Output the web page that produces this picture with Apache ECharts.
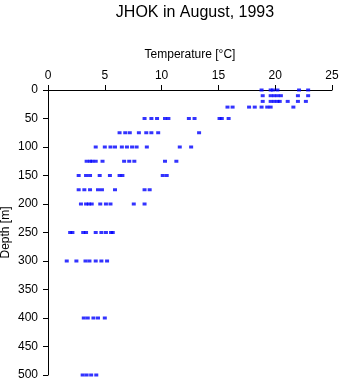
<!DOCTYPE html>
<html>
<head>
<meta charset="utf-8">
<script src="https://cdn.jsdelivr.net/npm/echarts@6/dist/echarts.min.js"></script>
<style>
  html, body { margin: 0; padding: 0; background: #fff; }
  #chart { width: 341px; height: 384px; }
</style>
</head>
<body>
<div id="chart"></div>
<script>
// Sampling depths (m) of the CTD casts
const depths = [0, 10, 20, 30, 50, 75, 100, 125, 150, 175, 200, 250, 300, 400, 500];

// Water temperature (°C) measured at each depth, one array per depth
const temp0   = [18.8, 19.6, 19.8, 20.2, 22.1, 22.9];
const temp10  = [18.9, 19.6, 19.9, 20.2, 20.5, 22.0, 22.9];
const temp20  = [18.9, 19.6, 19.9, 20.2, 20.4, 21.1, 22.0, 22.7];
const temp30  = [15.8, 16.25, 17.7, 18.2, 18.8, 19.3, 19.6, 21.6];
const temp50  = [8.5, 9.1, 9.6, 10.3, 10.6, 12.4, 12.9, 15.1, 15.3, 15.9];
const temp75  = [6.3, 6.8, 7.2, 8.0, 8.65, 9.1, 9.7, 13.3];
const temp100 = [4.2, 5.0, 5.5, 5.9, 6.5, 6.95, 7.4, 7.8, 8.7, 11.6, 12.6];
const temp125 = [3.4, 3.7, 3.9, 4.2, 4.8, 6.7, 7.15, 7.6, 10.3, 11.3];
const temp150 = [2.7, 3.35, 3.7, 4.55, 5.45, 6.3, 6.55, 10.1, 10.45];
const temp175 = [2.7, 3.2, 3.7, 4.4, 4.75, 5.9, 8.5, 8.95];
const temp200 = [2.9, 3.35, 3.6, 3.85, 4.6, 5.1, 5.5, 7.55, 8.5];
const temp250 = [1.95, 2.15, 3.1, 3.35, 4.2, 4.7, 5.1, 5.55, 5.7];
const temp300 = [1.65, 2.5, 3.3, 3.65, 4.2, 4.7, 5.2];
const temp400 = [3.15, 3.5, 4.0, 4.4, 5.0];
const temp500 = [3.05, 3.4, 3.8, 4.25];

const tempsByDepth = [temp0, temp10, temp20, temp30, temp50, temp75, temp100,
  temp125, temp150, temp175, temp200, temp250, temp300, temp400, temp500];

const points = [];
depths.forEach((d, i) => {
  tempsByDepth[i].forEach(t => points.push([t, d]));
});

const font = '"Liberation Sans", Arial, sans-serif';
const chart = echarts.init(document.getElementById('chart'), null, { renderer: 'canvas' });

chart.setOption({
  animation: false,
  backgroundColor: '#ffffff',
  title: {
    text: 'JHOK in August, 1993',
    left: 190,
    textAlign: 'center',
    top: 0,
    textStyle: { fontFamily: font, fontSize: 16, fontWeight: 'normal', color: '#000' }
  },
  grid: { left: 48, right: 9, top: 90, bottom: 9, containLabel: false, outerBoundsMode: 'none' },
  xAxis: {
    type: 'value',
    position: 'top',
    min: 0, max: 25, interval: 5,
    name: 'Temperature [°C]',
    nameLocation: 'middle',
    nameGap: 29,
    nameMoveOverlap: false,
    nameTextStyle: { fontFamily: font, fontSize: 12, color: '#000' },
    axisLine: { show: true, onZero: false, lineStyle: { color: '#000', width: 1 } },
    axisTick: { show: true, inside: false, length: 5, lineStyle: { color: '#000' } },
    axisLabel: { fontFamily: font, fontSize: 12, color: '#000', margin: 8 },
    splitLine: { show: false }
  },
  yAxis: {
    type: 'value',
    inverse: true,
    min: 0, max: 500, interval: 50,
    name: 'Depth [m]',
    nameLocation: 'middle',
    nameRotate: 90,
    nameGap: 36,
    nameMoveOverlap: false,
    nameTextStyle: { fontFamily: font, fontSize: 12, color: '#000' },
    axisLine: { show: true, onZero: false, lineStyle: { color: '#000', width: 1 } },
    axisTick: { show: true, inside: false, length: 5, lineStyle: { color: '#000' } },
    axisLabel: { fontFamily: font, fontSize: 12, color: '#000', margin: 10 },
    splitLine: { show: false }
  },
  series: [{
    type: 'scatter',
    data: points,
    symbol: 'rect',
    symbolSize: [4, 3],
    itemStyle: { color: '#0000ff' },
    clip: false
  }]
});
</script>
</body>
</html>
